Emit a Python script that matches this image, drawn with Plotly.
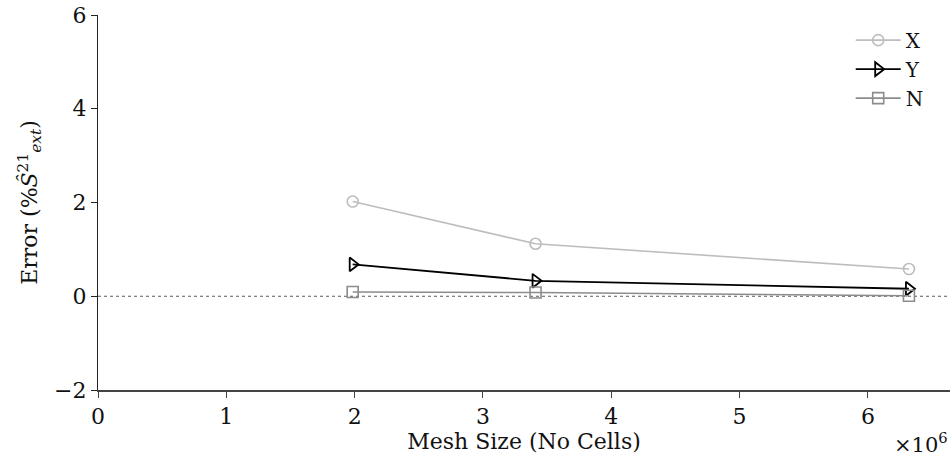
import plotly.graph_objects as go

# Mesh sizes (millions of cells) and discretisation error for each component
mesh_size = [1.985, 3.41, 6.32]
err_x = [2.02, 1.12, 0.58]
err_y = [0.68, 0.33, 0.16]
err_n = [0.09, 0.08, 0.01]

x_ticks = [0, 1, 2, 3, 4, 5, 6]
y_ticks = [-2, 0, 2, 4, 6]

FONT = "DejaVu Serif"
TXT = "#111111"

fig = go.Figure()

fig.add_trace(go.Scatter(
    x=mesh_size, y=err_x, name="X", mode="lines+markers",
    line=dict(color="#bdbdbd", width=1.6),
    marker=dict(symbol="circle-open", size=11, color="#bdbdbd", line=dict(width=1.6)),
))
fig.add_trace(go.Scatter(
    x=mesh_size, y=err_y, name="Y", mode="lines+markers",
    line=dict(color="#000000", width=1.8),
    marker=dict(symbol="triangle-right-open", size=12, color="#000000", line=dict(width=1.8)),
))
fig.add_trace(go.Scatter(
    x=mesh_size, y=err_n, name="N", mode="lines+markers",
    line=dict(color="#8c8c8c", width=1.6),
    marker=dict(symbol="square-open", size=11, color="#8c8c8c", line=dict(width=1.6)),
))

# zero reference line
fig.add_hline(y=0, line=dict(color="#333333", width=0.8, dash="dot"), layer="below")

fig.update_layout(
    width=952, height=461,
    margin=dict(l=98, r=2, t=15, b=71),
    paper_bgcolor="white", plot_bgcolor="white",
    font=dict(family=FONT, size=22, color=TXT),
    showlegend=True,
    legend=dict(x=0.975, y=0.985, xanchor="right", yanchor="top",
                bgcolor="rgba(0,0,0,0)",
                font=dict(family=FONT, size=20, color=TXT),
                itemwidth=45, tracegroupgap=6),
    xaxis=dict(
        range=[0, 6.64], tickvals=x_ticks, showgrid=False, zeroline=False,
        showline=True, linecolor="#444444", linewidth=1.5,
        ticks="outside", ticklen=6, tickcolor="#444444",
        tickfont=dict(family=FONT, size=22, color=TXT),
        title=dict(text="Mesh Size (No Cells)", standoff=0,
                   font=dict(family=FONT, size=22, color=TXT)),
    ),
    yaxis=dict(
        range=[-2, 6], tickvals=y_ticks, showgrid=False, zeroline=False,
        showline=True, linecolor="#222222", linewidth=1.2,
        ticks="outside", ticklen=6, tickcolor="#222222",
        tickformat="d",
        tickfont=dict(family=FONT, size=22, color=TXT),
        title=dict(text="Error (%<i>Ŝ</i><sup>21</sup><sub><i>ext</i></sub>)",
                   standoff=10, font=dict(family=FONT, size=22, color=TXT)),
    ),
)

fig.add_annotation(
    text="×10<sup>6</sup>", xref="paper", yref="paper", x=1.0, y=-0.185,
    xanchor="right", yanchor="bottom", showarrow=False,
    font=dict(family=FONT, size=21, color=TXT),
)

fig.write_html("out.html")
